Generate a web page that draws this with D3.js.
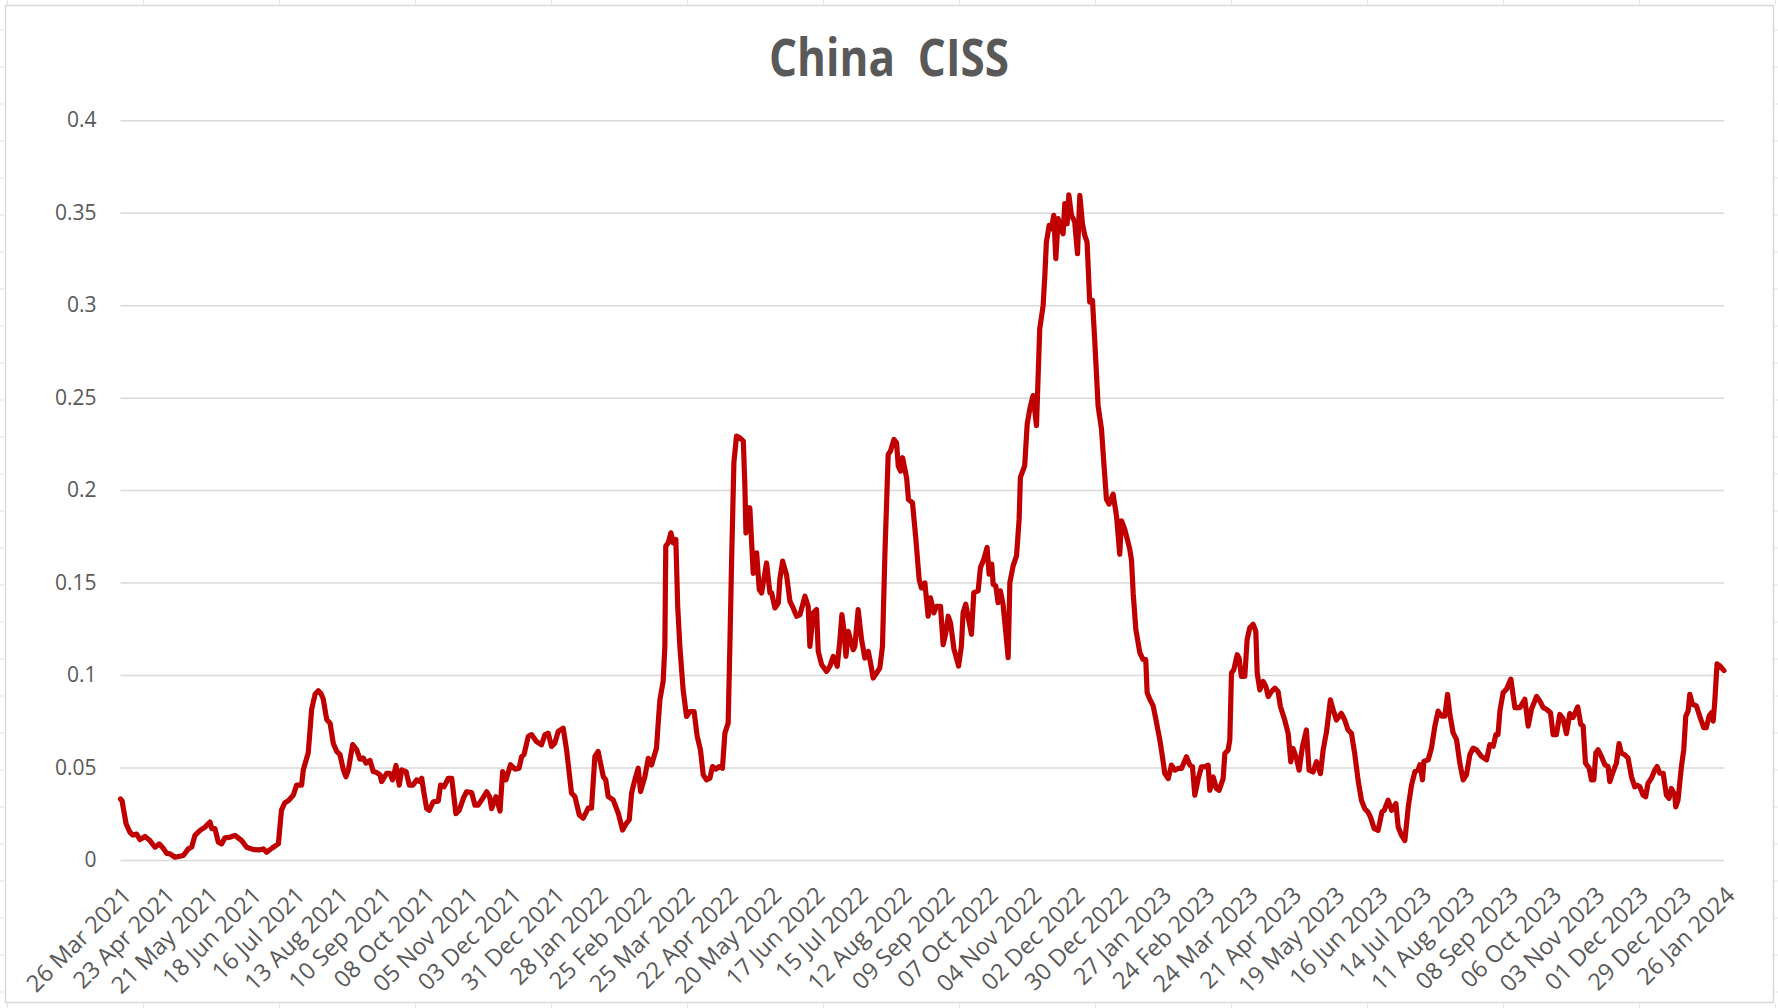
<!DOCTYPE html>
<html>
<head>
<meta charset="utf-8">
<script src="https://cdn.jsdelivr.net/npm/d3@7"></script>
<style>
  html, body { margin: 0; padding: 0; background: #ffffff; }
  svg { display: block; }
</style>
</head>
<body>
<svg id="chart" width="1778" height="1008"></svg>
<script>
// ---------------- DATA ----------------
const chartTitle = "China  CISS";
const startDateISO = "2021-03-26";
// days since 26 Mar 2021
const dayOffsets = [
0,1,3.6,6.1,8,10.4,12.6,15.8,19,22.3,25,27.5,29.8,32,35.2,40.6,43.8,46,48.1,51.4,54.6,57.8,59,61,63.2,65.3,67.5,71,74,78.3,81.5,86,90.1,92.3,94.4,98,102,104,106.2,108.4,111.6,113.8,117,118.1,121.3,123.5,125.7,127.8,
129.5,131,133.2,135.4,137.5,139.7,141.8,144,145.7,147.2,150,152.6,154.7,156.9,158.6,161.2,163.3,165.5,167.7,168.7,172,174,175.8,178,180.1,181.7,184.5,186.6,189,191.3,193.5,194.6,196.1,197.8,199.5,202.1,205.3,206.8,209,211.8,214,216.7,218.9,221.5,223.6,226.9,229,231,233.3,236.6,238.5,239.8,242.6,245.2,246.9,249,252,254.9,257.5,259.2,260.7,263.5,265.6,
268.8,272,274.2,276.3,278.5,280.6,282.8,286,288.2,291.4,293.6,296.4,299,302.2,304.3,306.5,308.6,311.9,313.5,315.1,318.3,321.6,324.4,326.9,328.7,330.2,332.3,334.5,336,338.8,341,343.1,346.3,347.4,348.5,350.6,351.7,352.3,353.9,355.6,357.1,358.8,360,361.4,363.5,365.7,367.8,370.6,372.6,374.7,376.5,378.6,380.8,382.5,384.6,386.8,388.9,390.5,392.6,393.7,394.8,396.3,398,400.1,
402.4,403.4,404.1,405.6,406.6,408.8,411,412.7,414.2,417.4,419.6,420.7,422.8,425,426,427.8,430.3,432.5,434.6,436.8,439,442.2,444.3,445.4,447.6,449.7,450.8,453,456.2,458.3,460.5,463.1,464.8,466.1,467.6,468.7,470.2,473.4,474.5,475.6,476.6,478.8,480.9,483.1,484.6,486.3,488.5,490.6,492.3,493.9,496,497.5,499.7,501.4,502.5,504,505.3,507.9,509.1,511.7,513.9,516,517.5,519.7,521.8,523.3,525.5,527.2,529.8,531.5,533.2,534.8,
536.3,538.5,541.5,543.3,544.4,546.1,549.8,551.3,554.1,555.6,557.8,559.9,561.2,562.9,563.8,565.5,567,568.5,570.2,572.4,573.5,574.6,576.7,578.9,580.6,581.4,584.2,585.8,587.5,589.6,591.8,593.9,596.1,597.2,598.2,600,601.5,603,604.3,605.8,607.3,609,610.1,611.6,612.7,614.4,616.5,618.3,619.8,621.5,623,624.5,626.2,628,629.5,631.6,633.8,635.3,637,638.7,641.3,643.5,645.6,646.7,648.8,652.1,653.2,654.3,656,658.6,660.7,662.4,663.3,665,667.2,668.9,
671.5,673.2,674.7,676.9,679,681.2,683.3,685.5,688.7,690.9,692.6,694.1,696.3,698.4,700.5,702.7,703.8,706,708.1,709.8,712.4,713.5,715.6,716.7,717.8,719.3,721.5,722.7,724.2,726.4,727.9,729.6,731.8,733.5,734.4,736.1,738.2,740,741.5,743.6,745.8,747.9,749.4,752.2,754.4,756.1,757.6,759.8,761.5,763.6,766.2,767.9,770.5,772.7,775.3,777,779.2,781.7,783.5,785.6,788.8,791,793.1,795.3,797.4,799.6,801.8,803.9,806,807.6,810,812.5,815,
816.5,819,821.2,824,825.5,827.7,829.8,832,834.1,836.3,838.4,839.5,841.2,842.1,844.9,847,849.2,851.3,853.5,855.6,857.4,858.9,861,863.2,865.3,867.5,869.6,871.8,873.9,876.1,879.3,882.6,884.7,886.9,888.6,890,891.2,893.3,895.5,898.3,900.9,904.1,907.3,909.5,911.6,914.9,917,919.2,921.3,923.9,925.6,927.7,
929.9,932,934.2,936.4,938.5,941.5,943.5,945,946.5,948.9,950.4,951.9,953.2,954.7,956.8,959,961.1,962.2,964.4,966.5,968.2,969.7,971.9,974,976.2,978.3,979.9,981.6,983.7,985.4,986.9,989.1,991.3,992.8,994.5,996.7,998.8,1000.5,1002,1004.2,1004.8,1006.3,1008.5,1010,1011.3,1012.8,1013.9,1015.6,1018.2,1020.3,1022.9,1024.5,1026.4,1027.9,1029,1030,1031.5,1033.2,1036
];
const cissValues = [
0.033,0.032,0.0196,0.015,0.0135,0.014,0.011,0.0127,0.0105,0.0069,0.0087,0.0065,0.0036,0.0033,0.0015,0.0024,0.006,0.007,0.0133,0.016,0.0178,0.0205,0.017,0.017,0.0096,0.0087,0.012,0.0124,0.0133,0.0105,0.0069,0.0056,0.0055,0.006,0.0042,0.0065,0.0087,0.027,0.031,0.032,0.035,0.0405,0.0405,0.0487,0.058,0.0815,0.0896,0.0915,
0.09,0.087,0.076,0.074,0.063,0.0587,0.057,0.0487,0.045,0.0487,0.0624,0.0596,0.0545,0.0551,0.0524,0.0538,0.0478,0.0473,0.046,0.0424,0.0469,0.0469,0.0433,0.0511,0.0405,0.0487,0.0478,0.0405,0.0405,0.0433,0.0424,0.0442,0.036,0.0278,0.0269,0.0315,0.0318,0.0405,0.0396,0.0442,0.0442,0.0251,0.0269,0.0333,0.0369,0.0364,0.0296,0.0296,0.0324,0.0369,0.0342,0.0278,0.0342,0.0265,0.0478,0.0433,0.0515,0.0491,0.0496,0.056,0.057,0.0669,0.0678,
0.064,0.0623,0.0677,0.0686,0.0614,0.0632,0.0695,0.0713,0.0596,0.0361,0.0343,0.0244,0.0226,0.028,0.028,0.056,0.0587,0.0451,0.0433,0.0343,0.0325,0.0253,0.0162,0.0199,0.0217,0.0361,0.0433,0.0496,0.037,0.0451,0.055,0.0514,0.0605,0.074,0.0866,0.0966,0.1155,0.1697,0.1715,0.1769,0.1715,0.1733,0.137,0.1155,0.0921,0.0776,0.0803,0.0803,0.0668,0.0596,0.046,0.0433,0.0442,0.0505,0.0491,0.0505,0.0496,0.0686,0.074,0.1155,0.1606,0.2148,0.2292,0.2283,
0.2265,0.2022,0.1769,0.1904,0.1904,0.155,0.1661,0.1462,0.1444,0.1606,0.1444,0.1444,0.1363,0.139,0.1516,0.1616,0.1543,0.1399,0.1363,0.1318,0.1327,0.1426,0.1372,0.1155,0.1336,0.1354,0.1128,0.1056,0.102,0.1047,0.1101,0.1047,0.1191,0.1327,0.1227,0.1101,0.1236,0.1137,0.1155,0.1264,0.1354,0.1191,0.1092,0.1128,0.1065,0.0984,0.1011,0.1038,0.1155,0.1661,0.2193,0.2211,0.2274,0.2256,0.213,0.2103,0.2175,0.2067,0.1949,0.1931,0.1733,0.1516,0.1471,0.1498,0.1318,0.1417,0.1336,0.1372,0.1372,0.1164,0.1227,0.1318,
0.128,0.114,0.1049,0.1157,0.1338,0.1383,0.122,0.1446,0.1455,0.1581,0.1626,0.169,0.1545,0.16,0.1491,0.1482,0.1392,0.1455,0.1383,0.1193,0.1094,0.15,0.159,0.1644,0.1843,0.2069,0.2132,0.2357,0.2439,0.2511,0.2348,0.2872,0.2998,0.316,0.3341,0.3431,0.3413,0.3486,0.3251,0.3468,0.3413,0.3386,0.3549,0.344,0.3597,0.3486,0.345,0.3278,0.3594,0.344,0.3377,0.3341,0.3016,0.3025,0.28,0.2457,0.233,0.215,0.1951,0.1924,0.1978,0.1861,0.1653,0.1834,0.1789,0.168,0.162,0.144,0.1246,0.112,0.1084,0.1084,0.0905,0.0869,0.0833,0.0762,
0.0649,0.0558,0.0467,0.044,0.0513,0.0486,0.0495,0.0495,0.0558,0.0513,0.0504,0.035,0.044,0.0504,0.0504,0.0513,0.0377,0.0449,0.0386,0.0377,0.044,0.0576,0.0594,0.0649,0.1011,0.1029,0.111,0.1092,0.0993,0.0993,0.1192,0.1255,0.1274,0.1237,0.1011,0.092,0.0966,0.0938,0.0884,0.0911,0.0929,0.0911,0.083,0.0757,0.0685,0.0531,0.0603,0.0549,0.0486,0.0612,0.0703,0.0486,0.0476,0.0531,0.0467,0.0594,0.0694,0.0866,0.0812,0.0757,0.0793,0.0757,0.0703,0.0685,0.0576,0.0431,0.0322,0.0277,0.0259,0.0232,0.017,0.016,0.026,
0.0269,0.0324,0.0269,0.0305,0.0178,0.0133,0.0105,0.0287,0.0405,0.0478,0.0487,0.0515,0.0433,0.0533,0.0542,0.0605,0.0724,0.0805,0.0778,0.0778,0.0896,0.0787,0.0687,0.0651,0.0524,0.0433,0.046,0.0569,0.0605,0.0596,0.056,0.0542,0.0624,0.0615,0.0678,0.0678,0.0805,0.0905,0.0924,0.0978,0.0824,0.0824,0.0869,0.0724,0.0815,0.0884,0.086,0.0824,0.0815,0.0796,0.0678,0.0678,
0.0787,0.0765,0.0683,0.0792,0.077,0.0828,0.0733,0.0724,0.0524,0.0496,0.0433,0.0433,0.0578,0.0596,0.056,0.0515,0.0505,0.0424,0.0478,0.0524,0.0629,0.0578,0.0569,0.0551,0.0451,0.0396,0.0405,0.0396,0.0351,0.0342,0.0415,0.0442,0.0487,0.0505,0.0469,0.0469,0.0351,0.0333,0.0387,0.0351,0.0287,0.0324,0.0505,0.0596,0.0778,0.0805,0.0896,0.0842,0.0833,0.0778,0.0715,0.0715,0.0778,0.0796,0.0751,0.0851,0.106,0.1051,0.1024
];
const xTickLabels = [
"26 Mar 2021","23 Apr 2021","21 May 2021","18 Jun 2021","16 Jul 2021","13 Aug 2021","10 Sep 2021","08 Oct 2021","05 Nov 2021","03 Dec 2021","31 Dec 2021","28 Jan 2022","25 Feb 2022","25 Mar 2022","22 Apr 2022","20 May 2022","17 Jun 2022","15 Jul 2022","12 Aug 2022","09 Sep 2022","07 Oct 2022","04 Nov 2022","02 Dec 2022","30 Dec 2022","27 Jan 2023","24 Feb 2023","24 Mar 2023","21 Apr 2023","19 May 2023","16 Jun 2023","14 Jul 2023","11 Aug 2023","08 Sep 2023","06 Oct 2023","03 Nov 2023","01 Dec 2023","29 Dec 2023","26 Jan 2024"
];
const xTickStepDays = 28;
const yTickValues = [0,0.05,0.1,0.15,0.2,0.25,0.3,0.35,0.4];
const yTickLabels = ["0","0.05","0.1","0.15","0.2","0.25","0.3","0.35","0.4"];

// ---------------- DRAW ----------------
const W = 1778, H = 1008;
const margin = {left: 120.5, right: W - 1724, top: 120.2, bottom: H - 860};
const svg = d3.select("#chart");
const textColor = "#595959";
const gridColor = "#D9D9D9";

// Excel sheet cells peeking around the chart
const sheet = svg.append("g");
for (let cx = 7.6; cx < W; cx += 136) {
  sheet.append("line").attr("x1", cx).attr("x2", cx).attr("y1", 0).attr("y2", 5).attr("stroke", "#E3E3E3");
  sheet.append("line").attr("x1", cx).attr("x2", cx).attr("y1", 1003).attr("y2", H).attr("stroke", "#E3E3E3");
}
for (let cy = 30; cy < H; cy += 37) {
  sheet.append("line").attr("x1", 0).attr("x2", 4).attr("y1", cy).attr("y2", cy).attr("stroke", "#E3E3E3");
  sheet.append("line").attr("x1", 1774).attr("x2", W).attr("y1", cy).attr("y2", cy).attr("stroke", "#E3E3E3");
}
svg.append("rect").attr("x", 5.5).attr("y", 5.5).attr("width", 1768).attr("height", 997)
  .attr("fill", "#fff").attr("stroke", gridColor).attr("stroke-width", 1.5);

const start = d3.utcParse("%Y-%m-%d")(startDateISO);
const points = dayOffsets.map((d, i) => ({date: new Date(start.getTime() + d * 86400000), value: cissValues[i]}));
const endDate = d3.utcDay.offset(start, xTickStepDays * (xTickLabels.length - 1));

const x = d3.scaleUtc().domain([start, endDate]).range([margin.left, W - margin.right]);
const y = d3.scaleLinear().domain([0, 0.4]).range([H - margin.bottom, margin.top]);

// y axis with gridlines
const yAxis = d3.axisLeft(y).tickValues(yTickValues)
  .tickFormat((d, i) => yTickLabels[i])
  .tickSize(-(W - margin.left - margin.right)).tickPadding(24);
const gy = svg.append("g").attr("transform", `translate(${margin.left},0)`).call(yAxis);
gy.select(".domain").remove();
gy.selectAll(".tick line").attr("stroke", gridColor).attr("stroke-width", 1.5);
gy.selectAll(".tick text").attr("fill", textColor)
  .style("font-family", "'Open Sans', sans-serif").style("font-size", "21px");

// x axis with rotated labels
const tickDates = xTickLabels.map((_, i) => d3.utcDay.offset(start, xTickStepDays * i));
const xAxis = d3.axisBottom(x).tickValues(tickDates)
  .tickFormat((d, i) => xTickLabels[i]).tickSize(0);
const gx = svg.append("g").attr("transform", `translate(0,${H - margin.bottom})`).call(xAxis);
gx.select(".domain").remove();
gx.selectAll(".tick text")
  .attr("fill", textColor)
  .style("font-family", "'Open Sans', sans-serif").style("font-size", "23.5px")
  .attr("text-anchor", "end")
  .attr("x", 0).attr("y", 0).attr("dy", "0.35em")
  .attr("transform", "translate(6,31) rotate(-45)");

// series line
const line = d3.line().x(d => x(d.date)).y(d => y(d.value));
svg.append("path").datum(points)
  .attr("d", line)
  .attr("fill", "none")
  .attr("stroke", "#C00000")
  .attr("stroke-width", 5.2)
  .attr("stroke-linejoin", "round")
  .attr("stroke-linecap", "round");

// title
svg.append("text")
  .attr("x", 889).attr("y", 76)
  .attr("text-anchor", "middle")
  .attr("fill", textColor)
  .style("font-family", "'Open Sans', sans-serif")
  .style("font-weight", 700)
  .style("font-size", "52px")
  .attr("textLength", 240).attr("lengthAdjust", "spacingAndGlyphs")
  .style("white-space", "pre")
  .text(chartTitle);
</script>
</body>
</html>
